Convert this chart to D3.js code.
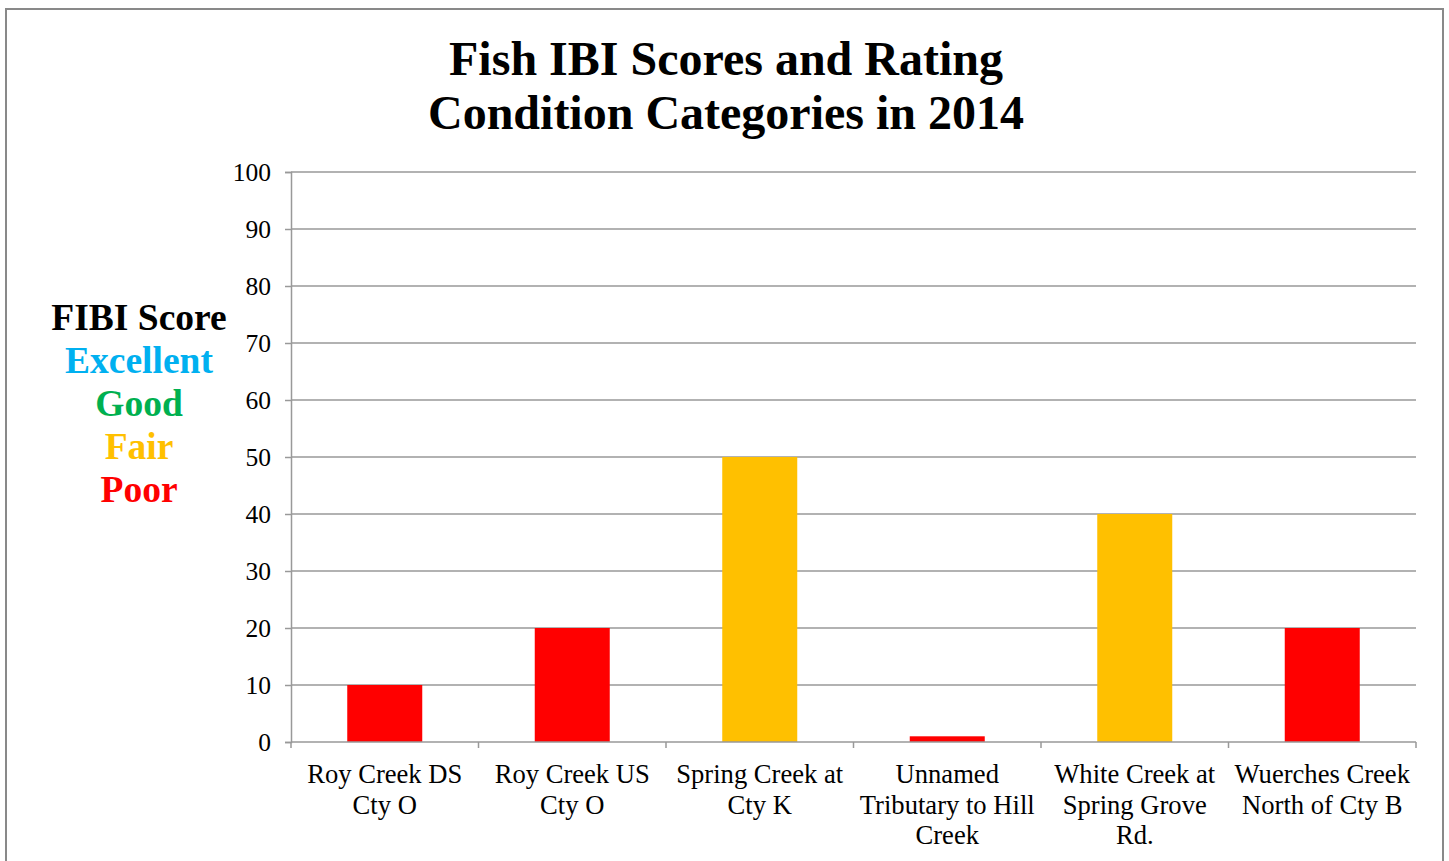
<!DOCTYPE html>
<html>
<head>
<meta charset="utf-8">
<script src="https://cdn.jsdelivr.net/npm/d3@7"></script>
<style>
  body { margin: 0; background: #fff; }
  svg { font-family: "Liberation Serif", "Times New Roman", serif; }
</style>
</head>
<body>
<div id="chart"></div>
<script>
const sites = [
  ["Roy Creek DS", "Cty O"],
  ["Roy Creek US", "Cty O"],
  ["Spring Creek at", "Cty K"],
  ["Unnamed", "Tributary to Hill", "Creek"],
  ["White Creek at", "Spring Grove", "Rd."],
  ["Wuerches Creek", "North of Cty B"]
];
const scores = [10, 20, 50, 1, 40, 20];
const ratings = ["Poor", "Poor", "Fair", "Poor", "Fair", "Poor"];
const yTicks = [0, 10, 20, 30, 40, 50, 60, 70, 80, 90, 100];
const legendItems = ["Excellent", "Good", "Fair", "Poor"];

const ratingColor = {
  Excellent: "#00b0f0",
  Good: "#00b050",
  Fair: "#ffc000",
  Poor: "#ff0000"
};

const width = 1449, height = 861;
const plotLeft = 291, plotRight = 1416, plotTop = 172, plotBottom = 742;

const svg = d3.select("#chart")
  .append("svg")
  .attr("width", width)
  .attr("height", height);

// outer frame
svg.append("rect")
  .attr("x", 6).attr("y", 9)
  .attr("width", 1437).attr("height", 870)
  .attr("fill", "none")
  .attr("stroke", "#898989")
  .attr("stroke-width", 2);

const x = d3.scaleBand()
  .domain(d3.range(sites.length))
  .range([plotLeft, plotRight])
  .paddingInner(0.6)
  .paddingOuter(0.3);

const y = d3.scaleLinear()
  .domain([0, 100])
  .range([plotBottom, plotTop]);

// gridlines
svg.append("g")
  .selectAll("line")
  .data(yTicks.filter(d => d > 0))
  .join("line")
  .attr("x1", plotLeft).attr("x2", plotRight)
  .attr("y1", d => y(d)).attr("y2", d => y(d))
  .attr("stroke", "#999")
  .attr("stroke-width", 1.5);

// bars
svg.append("g")
  .selectAll("rect")
  .data(scores)
  .join("rect")
  .attr("x", (d, i) => x(i))
  .attr("width", x.bandwidth())
  .attr("y", d => y(d))
  .attr("height", d => y(0) - y(d))
  .attr("fill", (d, i) => ratingColor[ratings[i]]);

// y axis
const yAxis = svg.append("g")
  .attr("transform", `translate(${plotLeft},0)`)
  .call(d3.axisLeft(y).tickValues(yTicks).tickSize(6).tickPadding(14));
yAxis.select(".domain").attr("stroke", "#999").attr("stroke-width", 1.5);
yAxis.selectAll(".tick line").attr("stroke", "#999").attr("stroke-width", 1.5);
yAxis.selectAll(".tick text")
  .attr("fill", "#000")
  .style("font-size", "25.5px")
  .style("font-family", "Liberation Serif, serif");

// x axis with ticks at category boundaries
const boundaries = d3.range(sites.length + 1)
  .map(i => x(0) - x.step() * x.paddingOuter() + i * x.step());
svg.append("line")
  .attr("x1", plotLeft).attr("x2", plotRight)
  .attr("y1", plotBottom).attr("y2", plotBottom)
  .attr("stroke", "#999").attr("stroke-width", 1.5);
svg.append("g")
  .selectAll("line")
  .data(boundaries)
  .join("line")
  .attr("x1", d => d).attr("x2", d => d)
  .attr("y1", plotBottom).attr("y2", plotBottom + 6)
  .attr("stroke", "#999").attr("stroke-width", 1.5);

// category labels
const lab = svg.append("g")
  .selectAll("text")
  .data(sites)
  .join("text")
  .attr("x", (d, i) => x(i) + x.bandwidth() / 2)
  .attr("y", plotBottom + 41)
  .attr("text-anchor", "middle")
  .style("font-size", "26.6px");
lab.selectAll("tspan")
  .data(d => d)
  .join("tspan")
  .attr("x", function () { return d3.select(this.parentNode).attr("x"); })
  .attr("dy", (d, i) => i === 0 ? 0 : 30.5)
  .text(d => d);

// title
const title = svg.append("text")
  .attr("x", 726)
  .attr("y", 75)
  .attr("text-anchor", "middle")
  .style("font-size", "48px")
  .style("font-weight", "bold");
title.append("tspan").attr("x", 726).text("Fish IBI Scores and Rating");
title.append("tspan").attr("x", 726).attr("dy", 54).text("Condition Categories in 2014");

// legend
svg.append("text")
  .attr("x", 139).attr("y", 330)
  .attr("text-anchor", "middle")
  .style("font-size", "37.5px")
  .style("font-weight", "bold")
  .text("FIBI Score");
svg.append("g")
  .selectAll("text")
  .data(legendItems)
  .join("text")
  .attr("x", 139)
  .attr("y", (d, i) => 373 + i * 43)
  .attr("text-anchor", "middle")
  .attr("fill", d => ratingColor[d])
  .style("font-size", "37.5px")
  .style("font-weight", "bold")
  .text(d => d);
</script>
</body>
</html>
